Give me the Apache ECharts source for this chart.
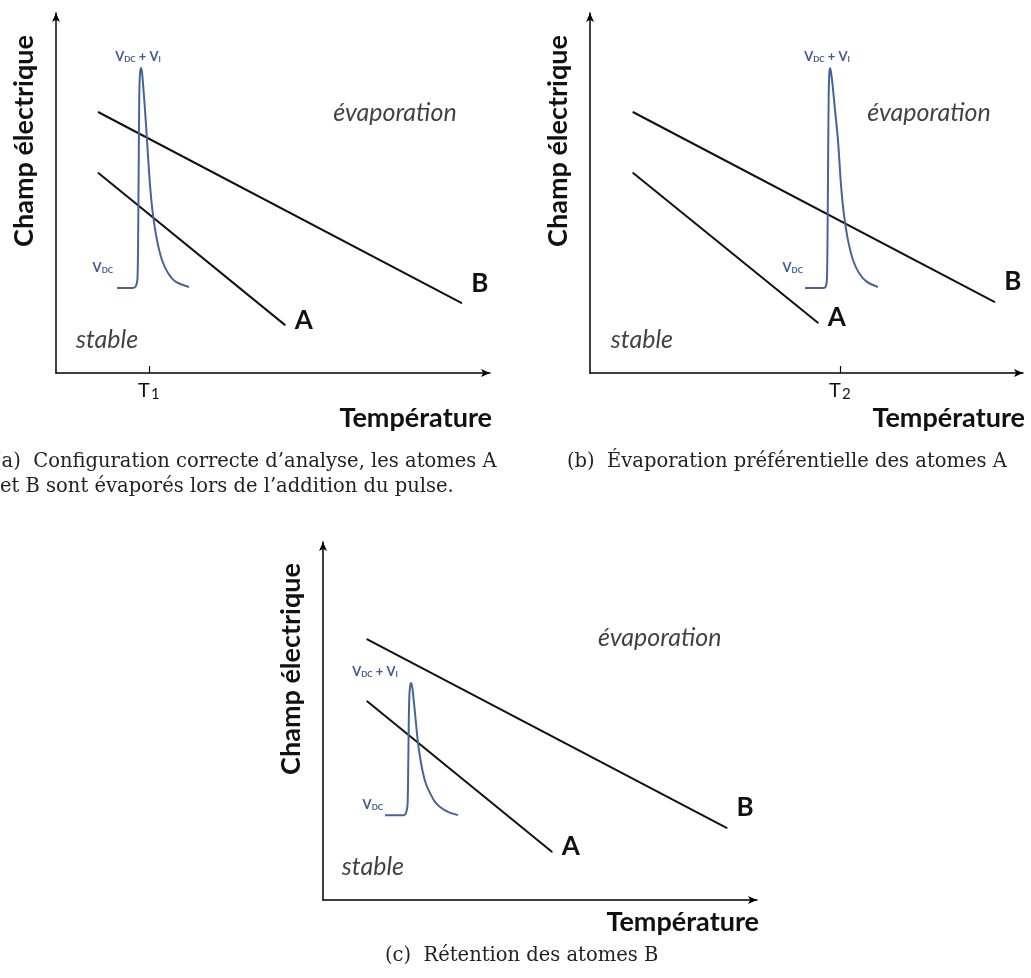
<!DOCTYPE html>
<html>
<head>
<meta charset="utf-8">
<script src="https://cdn.jsdelivr.net/npm/echarts@6/dist/echarts.min.js"></script>
<style>
html,body{margin:0;padding:0;background:#fff;}
#chart{width:1031px;height:978px;}
</style>
</head>
<body>
<div id="chart"></div>
<script>
// ---------- data (axis units: 0..100 on both axes) ----------
const lineA_a = [[9.7, 55.6], [52.8, 13.3]];
const lineB_a = [[9.7, 72.5], [93.5, 19.4]];
const pulse_a = [[14.06,23.6],[17.74,23.6],[18.43,24.2],[18.78,26.4],[18.94,39.7],[19.08,61.9],[19.19,77.2],[19.35,83.1],[19.59,84.7],[19.82,83.6],[20.05,80.3],[20.51,73.1],[20.97,64.7],[21.66,52.2],[22.35,43.9],[23.27,36.9],[24.42,31.4],[25.81,27.8],[27.65,25.3],[30.65,23.9]];

const lineA_b = [[9.9, 55.6], [52.7, 13.9]];
const lineB_b = [[9.9, 72.5], [93.5, 19.7]];
const pulse_b = [[49.65,23.6],[54.04,23.6],[54.50,24.2],[54.73,26.4],[54.87,39.7],[55.01,61.9],[55.13,77.2],[55.27,83.1],[55.43,84.7],[55.66,83.6],[56.00,80.3],[56.58,73.1],[57.27,64.7],[57.97,52.2],[58.66,43.9],[59.58,36.9],[60.74,31.4],[62.12,27.8],[63.97,25.3],[66.51,23.9]];

const lineA_c = [[10.1, 55.6], [52.8, 13.4]];
const lineB_c = [[10.1, 72.9], [93.1, 20.1]];
const pulse_c = [[14.29,23.7],[18.66,23.7],[19.12,24.3],[19.47,26.5],[19.63,36.3],[19.77,50.3],[19.91,57.3],[20.09,59.8],[20.28,60.6],[20.51,59.8],[20.74,57.8],[21.31,50.8],[21.89,43.9],[22.47,39.1],[23.04,35.5],[23.73,32.4],[24.65,29.9],[25.81,27.4],[26.96,26.0],[28.80,24.6],[31.11,23.7]];

const regionNames = ['évaporation', 'stable'];
const regionPos_a = [[78.1, 72.2], [11.75, 9.2]];
const regionPos_b = [[78.3, 72.2], [12.0, 9.2]];
const regionPos_c = [[77.6, 73.2], [11.5, 9.2]];

const lineNames = ['A', 'B'];
const tickValue_a = 21.4, tickSub_a = '1';
const tickValue_b = 57.7, tickSub_b = '2';

const yTitle = 'Champ électrique';
const xTitle = 'Température';

const captionA1 = '(a)  Configuration correcte d’analyse, les atomes A';
const captionA2 = 'et B sont évaporés lors de l’addition du pulse.';
const captionB = '(b)  Évaporation préférentielle des atomes A';
const captionC = '(c)  Rétention des atomes B';

// ---------- styling ----------
const SANS = 'Lato, "Open Sans", sans-serif';
const SERIF = '"DejaVu Serif", serif';
const BLUE = '#45659a';
const BLUE_TXT = '#3e5c90';
const CAP = {fontFamily: SERIF, fontSize: 19.5, fontWeight: 'normal', color: '#222'};

const grids = [
  {left: 56, top: 13, width: 434, height: 360},
  {left: 590, top: 13, width: 433, height: 360},
  {left: 323, top: 542, width: 434, height: 358}
];

function xAxisFor(i, tickVal, tickSub, titlePad) {
  const hasTick = tickVal !== null;
  return {
    gridIndex: i, type: 'value', min: 0, max: 100,
    name: xTitle, nameLocation: 'end', nameGap: 2,
    nameTextStyle: {fontFamily: SANS, fontWeight: 'bold', fontSize: 27, color: '#111',
      align: 'right', verticalAlign: 'top', padding: [titlePad, 0, 0, 0]},
    axisLine: {show: true, lineStyle: {color: '#000', width: 1.5}, symbol: ['none', 'arrow'], symbolSize: [6, 9]},
    axisTick: hasTick ? {show: true, inside: true, length: 7, customValues: [tickVal], lineStyle: {color: '#000', width: 1.2}} : {show: false},
    axisLabel: hasTick ? {show: true, customValues: [tickVal], margin: 6,
      formatter: () => '{t|T}{s|' + tickSub + '}',
      rich: {t: {fontFamily: SANS, fontSize: 20, color: '#111'}, s: {fontFamily: SANS, fontSize: 15, color: '#111', padding: [8, 0, 0, 1]}}} : {show: false},
    splitLine: {show: false}
  };
}
function yAxisFor(i) {
  return {
    gridIndex: i, type: 'value', min: 0, max: 100,
    name: yTitle, nameLocation: 'middle', nameRotate: 90, nameGap: 18,
    nameTextStyle: {fontFamily: SANS, fontWeight: 'bold', fontSize: 27, color: '#111', padding: [0, 0, 0, 104]},
    axisLine: {show: true, lineStyle: {color: '#000', width: 1.5}, symbol: ['none', 'arrow'], symbolSize: [6, 9]},
    axisTick: {show: false}, axisLabel: {show: false}, splitLine: {show: false}
  };
}

function straightLine(i, data, name, offset) {
  return {
    type: 'line', xAxisIndex: i, yAxisIndex: i, silent: true,
    symbol: 'circle', symbolSize: 1, showSymbol: true,
    itemStyle: {color: '#111'}, lineStyle: {color: '#111', width: 2},
    data: data.map((p, k) => k === data.length - 1 ? {
      value: p,
      label: {show: true, formatter: name, position: 'right', distance: 9, offset: offset,
        fontFamily: SANS, fontWeight: 'bold', fontSize: 26, color: '#111'}
    } : p)
  };
}

const vRich = {
  v: {fontFamily: SANS, fontWeight: 'bold', fontSize: 13, color: BLUE_TXT},
  s: {fontFamily: SANS, fontWeight: 'bold', fontSize: 8, color: BLUE_TXT, padding: [5, 0, 0, 0]}
};
function pulseSeries(i, data, peakOffset, baseLabel) {
  let peak = 0;
  data.forEach((p, k) => { if (p[1] > data[peak][1]) peak = k; });
  return {
    type: 'line', xAxisIndex: i, yAxisIndex: i, silent: true,
    smooth: 0.3,
    symbol: 'none',
    lineStyle: {color: BLUE, width: 2},
    markPoint: {
      symbol: 'circle', symbolSize: 0, silent: true,
      data: [
        {coord: data[peak], label: {show: true, position: 'top', distance: 5, offset: peakOffset,
          formatter: '{v|V}{s|DC}{v| + V}{s|I}', rich: vRich}},
        {coord: data[0], label: {show: true, position: 'left', distance: baseLabel.distance, offset: baseLabel.offset,
          formatter: '{v|V}{s|DC}', rich: vRich}}
      ]
    },
    data: data
  };
}

function regionSeries(i, pos) {
  return {
    type: 'scatter', xAxisIndex: i, yAxisIndex: i, silent: true, symbolSize: 0,
    data: pos.map((p, k) => ({value: p, label: {show: true, position: 'inside', formatter: regionNames[k],
      fontFamily: SANS, fontStyle: 'italic', fontSize: 25, color: '#111'}}))
  };
}

const option = {
  animation: false,
  backgroundColor: '#fff',
  grid: grids,
  xAxis: [xAxisFor(0, tickValue_a, tickSub_a, 32), xAxisFor(1, tickValue_b, tickSub_b, 32), xAxisFor(2, null, null, 9)],
  yAxis: [yAxisFor(0), yAxisFor(1), yAxisFor(2)],
  title: [
    {text: captionA1, left: -6, top: 452, padding: 0, textStyle: CAP},
    {text: captionA2, left: 0, top: 477, padding: 0, textStyle: CAP},
    {text: captionB, left: 567, top: 452, padding: 0, textStyle: CAP},
    {text: captionC, left: 385, top: 946, padding: 0, textStyle: CAP}
  ],
  series: [
    straightLine(0, lineA_a, lineNames[0], [0, -5]),
    straightLine(0, lineB_a, lineNames[1], [0, -20]),
    pulseSeries(0, pulse_a, [-3, 0], {distance: 4, offset: [0, -20]}),
    regionSeries(0, regionPos_a),
    straightLine(1, lineA_b, lineNames[0], [0, -5]),
    straightLine(1, lineB_b, lineNames[1], [0, -20]),
    pulseSeries(1, pulse_b, [-3, 0], {distance: 2, offset: [0, -20]}),
    regionSeries(1, regionPos_b),
    straightLine(2, lineA_c, lineNames[0], [0, -5]),
    straightLine(2, lineB_c, lineNames[1], [0, -20]),
    pulseSeries(2, pulse_c, [-36, 0], {distance: 2, offset: [0, -10]}),
    regionSeries(2, regionPos_c)
  ]
};

const chart = echarts.init(document.getElementById('chart'), null, {renderer: 'canvas'});
chart.setOption(option);
</script>
</body>
</html>
